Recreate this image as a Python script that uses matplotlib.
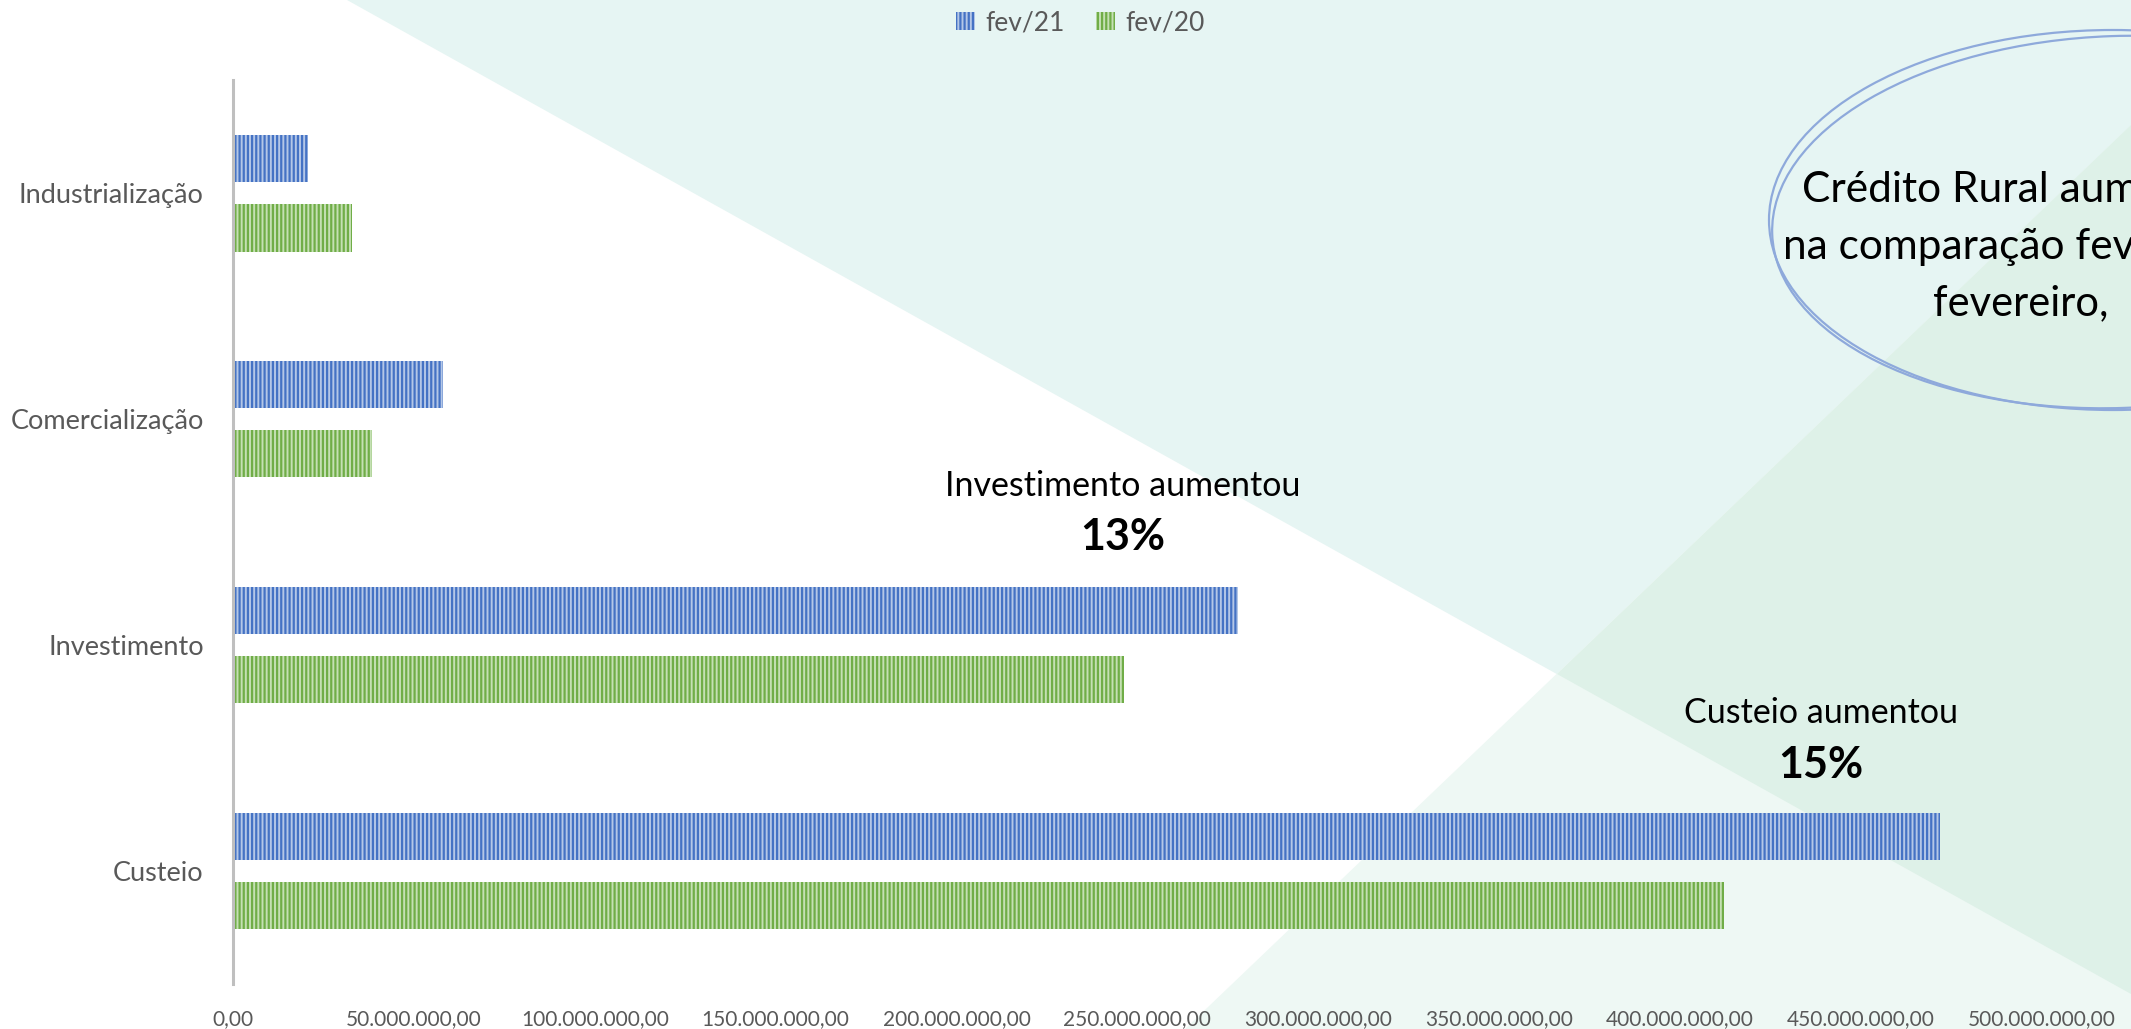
import numpy as np
import matplotlib.pyplot as plt
from matplotlib.patches import Polygon, Ellipse, Patch
from matplotlib.ticker import FuncFormatter

# Data (R$)
categorias = ['Custeio', 'Investimento', 'Comercialização', 'Industrialização']
fev21 = [471.8e6, 277.9e6, 58.0e6, 20.7e6]
fev20 = [412.2e6, 246.4e6, 38.4e6, 32.9e6]
xticks = np.arange(0, 500e6 + 1, 50e6)

plt.rcParams['font.family'] = ['Lato', 'DejaVu Sans']
plt.rcParams['hatch.linewidth'] = 1.6

W, H = 2131, 1029
fig = plt.figure(figsize=(W / 100, H / 100), dpi=100)
fig.patch.set_facecolor('white')

# background shapes (pixel coords)
bg = fig.add_axes([0, 0, 1, 1], zorder=0)
bg.set_xlim(0, W)
bg.set_ylim(H, 0)
bg.axis('off')
bg.add_patch(Polygon([(347, 0), (W, 0), (W, 994)], closed=True, fc='#E6F5F3', ec='none'))
bg.add_patch(Polygon([(1185, H), (W, 125), (W, H)], closed=True, fc='#EEF8F4', ec='none'))
bg.add_patch(Polygon([(1557, 674), (W, 125), (W, 994)], closed=True, fc='#DEF1E8', ec='none'))

# ellipse callout (text runs past the right edge, as in the original)
bg.add_patch(Ellipse((2113, 220), 2 * 344, 2 * 190, angle=0, fill=False, ec='#8EA9DB', lw=1.6))
bg.add_patch(Ellipse((2118, 222), 2 * 346, 2 * 186, angle=-2, fill=False, ec='#8EA9DB', lw=1.6))
bg.text(1802, 190, 'Crédito Rural aum', fontsize=30.5, color='black', ha='left', va='center')
bg.text(1783, 247, 'na comparação fev', fontsize=30.5, color='black', ha='left', va='center')
bg.text(1933, 303, 'fevereiro,', fontsize=30, color='black', ha='left', va='center')

ax = fig.add_axes([0.1093, 0.0437, 0.8489, 0.8783], zorder=1)
ax.patch.set_alpha(0)

y = np.arange(len(categorias))
h = 0.21
off = 0.153
ax.barh(y + off, fev21, height=h, color='#B4C7E7', edgecolor='#4472C4', linewidth=0,
        hatch='||||', label='fev/21')
ax.barh(y - off, fev20, height=h, color='#C5E0B4', edgecolor='#70AD47', linewidth=0,
        hatch='||||', label='fev/20')

ax.set_xlim(0, 500e6)
ax.set_ylim(-0.5, 3.5)
ax.set_yticks(y)
ax.set_yticklabels(categorias)
ax.set_xticks(xticks)


def br_fmt(v, pos):
    s = f"{v:,.2f}"
    return s.replace(',', 'X').replace('.', ',').replace('X', '.')


ax.xaxis.set_major_formatter(FuncFormatter(br_fmt))
ax.tick_params(axis='x', length=0, pad=18, labelsize=15, labelcolor='#595959')
ax.tick_params(axis='y', length=0, pad=21, labelsize=19.5, labelcolor='#595959')

for s in ['top', 'right', 'bottom']:
    ax.spines[s].set_visible(False)
ax.spines['left'].set_color('#BFBFBF')
ax.spines['left'].set_linewidth(2.2)

# annotations
ax.annotate('Investimento aumentou', xy=(1123 / W, 1 - 486 / H), xycoords='figure fraction',
            ha='center', va='center', fontsize=24.5, color='black')
ax.annotate('13%', xy=(1123 / W, 1 - 537 / H), xycoords='figure fraction',
            ha='center', va='center', fontsize=31, fontweight='bold', color='black')
ax.annotate('Custeio aumentou', xy=(1821 / W, 1 - 713 / H), xycoords='figure fraction',
            ha='center', va='center', fontsize=24.5, color='black')
ax.annotate('15%', xy=(1821 / W, 1 - 765 / H), xycoords='figure fraction',
            ha='center', va='center', fontsize=31, fontweight='bold', color='black')

handles = [Patch(facecolor='#B4C7E7', edgecolor='#4472C4', linewidth=0, hatch='||||', label='fev/21'),
           Patch(facecolor='#C5E0B4', edgecolor='#70AD47', linewidth=0, hatch='||||', label='fev/20')]
leg = fig.legend(handles=handles, loc='center', bbox_to_anchor=(0.507, 0.978), ncol=2,
                 frameon=False, fontsize=19, handlelength=0.7, handleheight=0.7,
                 handletextpad=0.4, columnspacing=1.2)
for t in leg.get_texts():
    t.set_color('#595959')

fig.savefig('out.png', dpi=100)
